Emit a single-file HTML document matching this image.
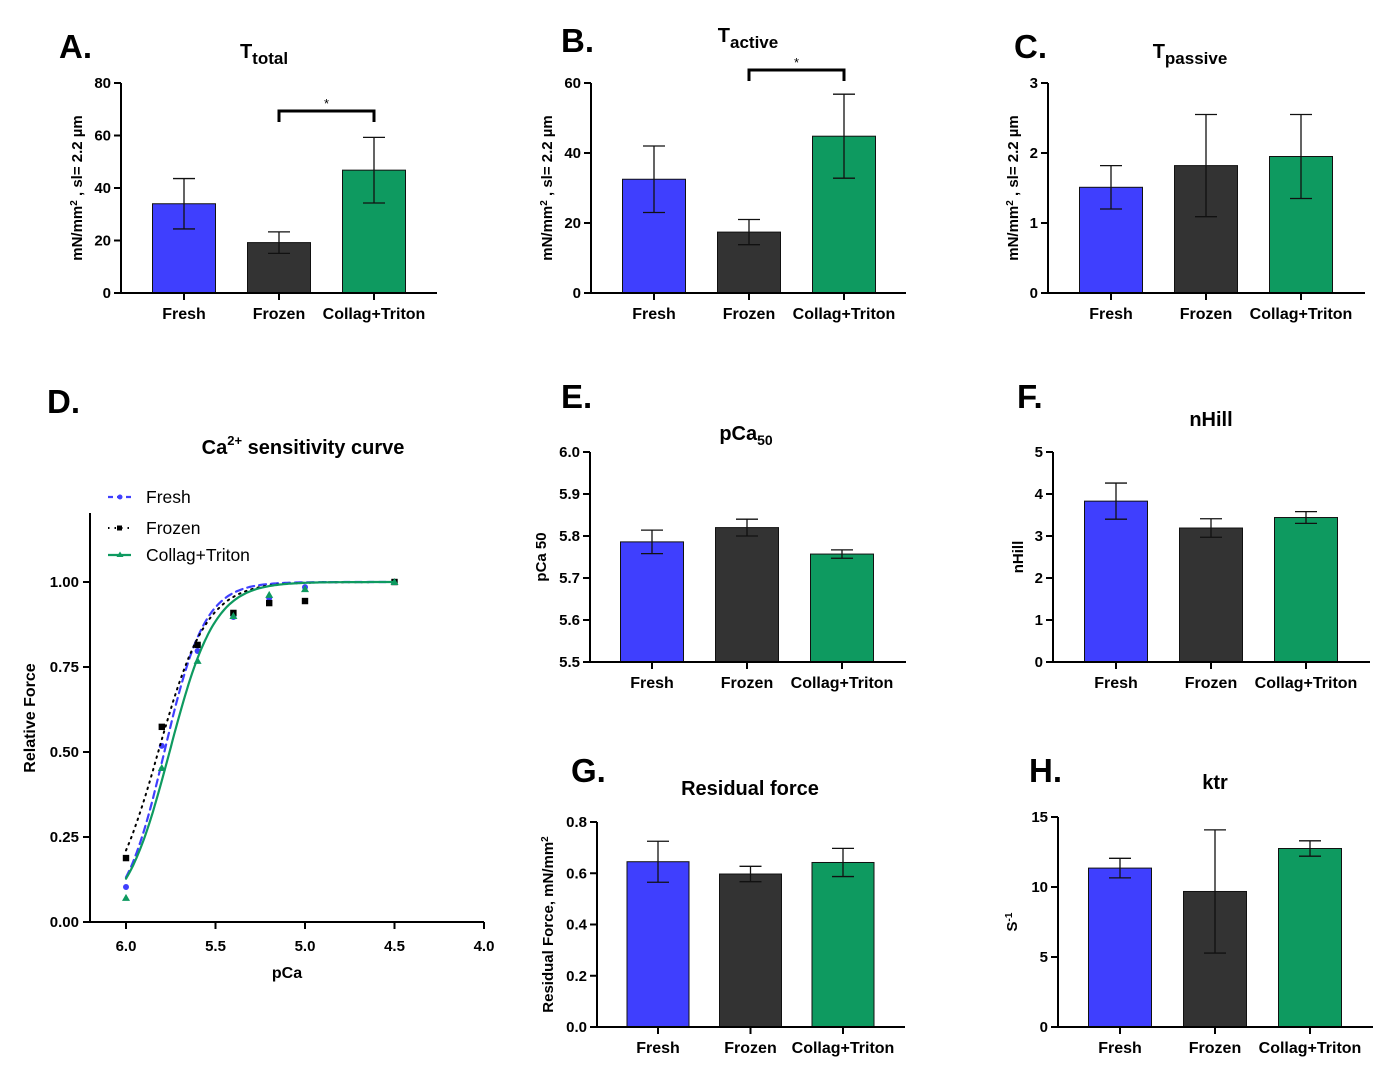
<!DOCTYPE html>
<html><head><meta charset="utf-8"><style>
html,body{margin:0;padding:0;background:#fff;}
svg{display:block;font-family:"Liberation Sans",Arial,sans-serif;}
</style></head><body>
<svg id="fig" width="1400" height="1091" viewBox="0 0 1400 1091" xmlns="http://www.w3.org/2000/svg"></svg>
<script>
const categories = ["Fresh","Frozen","Collag+Triton"];
const colors = ["#3f3ffe","#333333","#0e9a60"];
const tTotalVals = [34.0, 19.2, 46.8];
const tTotalErr = [9.6, 4.1, 12.5];
const tActiveVals = [32.5, 17.4, 44.8];
const tActiveErr = [9.5, 3.6, 12.0];
const tPassiveVals = [1.51, 1.82, 1.95];
const tPassiveErr = [0.31, 0.73, 0.60];
const pCa50Vals = [5.786, 5.820, 5.757];
const pCa50Err = [0.028, 0.020, 0.010];
const nHillVals = [3.83, 3.19, 3.44];
const nHillErr = [0.43, 0.22, 0.14];
const residualVals = [0.645, 0.597, 0.642];
const residualErr = [0.080, 0.030, 0.055];
const ktrVals = [11.35, 9.68, 12.75];
const ktrErr = [0.70, 4.40, 0.55];
const tTotalTicks = ["0","20","40","60","80"];
const tActiveTicks = ["0","20","40","60"];
const tPassiveTicks = ["0","1","2","3"];
const pCa50Ticks = ["5.5","5.6","5.7","5.8","5.9","6.0"];
const nHillTicks = ["0","1","2","3","4","5"];
const residualTicks = ["0.0","0.2","0.4","0.6","0.8"];
const ktrTicks = ["0","5","10","15"];
// Ca sensitivity
const pCaLevels = [6.0, 5.8, 5.6, 5.4, 5.2, 5.0, 4.5];
const freshForce = [0.103, 0.518, 0.797, 0.897, 0.953, 0.985, 1.0];
const frozenForce = [0.188, 0.574, 0.815, 0.909, 0.938, 0.944, 1.0];
const collagForce = [0.071, 0.453, 0.768, 0.900, 0.962, 0.979, 1.0];
const dYTicks = ["0.00","0.25","0.50","0.75","1.00"];
const dXTicks = ["6.0","5.5","5.0","4.5","4.0"];

const NS = "http://www.w3.org/2000/svg";
const svg = document.getElementById("fig");
function mk(tag, attrs, parent){
  const e = document.createElementNS(NS, tag);
  for (const k in attrs) e.setAttribute(k, attrs[k]);
  (parent||svg).appendChild(e);
  return e;
}
function txt(s, x, y, size, anchor, weight, parent){
  const t = mk("text", {x:x, y:y, "font-size":size, "text-anchor":anchor||"middle", "font-weight":weight||"bold", fill:"#000"}, parent);
  t.textContent = s;
  return t;
}

function barPanel(p){
  const g = mk("g", {});
  
  
  const ymin = parseFloat(p.ticks[0]), ymax = parseFloat(p.ticks[p.ticks.length-1]);
  const ys = v => p.bottom - (v - ymin) / (ymax - ymin) * (p.bottom - p.top);
  const cx = i => p.c0 + i * p.step;
  p.vals.forEach((v,i)=>{
    const r = mk("rect", {x:cx(i)-p.bw/2, y:ys(v), width:p.bw, height:p.bottom-ys(v), fill:colors[i], stroke:"#111", "stroke-width":1}, g);
    
    
    const e = p.err[i];
    const eg = mk("g", {stroke:"#111", "stroke-width":1.3}, g);
    
    
    mk("line", {x1:cx(i), x2:cx(i), y1:ys(v+e), y2:ys(v-e)}, eg);
    mk("line", {x1:cx(i)-11, x2:cx(i)+11, y1:ys(v+e), y2:ys(v+e)}, eg);
    mk("line", {x1:cx(i)-11, x2:cx(i)+11, y1:ys(v-e), y2:ys(v-e)}, eg);
  });
  const ax = mk("g", {stroke:"#000", "stroke-width":2}, g);
  
  
  mk("line", {x1:p.ax, x2:p.ax, y1:p.top, y2:p.bottom+1}, ax);
  mk("line", {x1:p.ax-1, x2:p.right, y1:p.bottom, y2:p.bottom}, ax);
  p.ticks.forEach(t=>{
    const y = ys(parseFloat(t));
    mk("line", {x1:p.ax-7, x2:p.ax, y1:y, y2:y}, ax);
    const l = txt(t, p.ax-10, y+5, 15, "end", "bold", g);
    
    
  });
  categories.forEach((c,i)=>{
    mk("line", {x1:cx(i), x2:cx(i), y1:p.bottom, y2:p.bottom+7}, ax);
    const l = txt(c, cx(i), p.bottom+26, 16, "middle", "bold", g);
    
    
  });
  const yl = mk("text", {transform:`translate(${p.ylx},${(p.top+p.bottom)/2}) rotate(-90)`, "font-size":15, "text-anchor":"middle", "font-weight":"bold"}, g);
  yl.innerHTML = p.ylabel;
  
  
  const tt = mk("text", {x:p.tx, y:p.ty, "font-size":20, "text-anchor":"middle", "font-weight":"bold"}, g);
  tt.innerHTML = p.title;
  
  
  const pl = txt(p.letter, p.lx, p.ly, 33, "start", "bold", g);
  
  
  if (p.bracket){
    const b = mk("path", {d:`M${cx(1)},${p.bracket+11} V${p.bracket} H${cx(2)} V${p.bracket+11}`, fill:"none", stroke:"#000", "stroke-width":3}, g);
    
    
    const s = txt("*", (cx(1)+cx(2))/2, p.bracket-3, 13, "middle", "normal", g);
    
    
  }
}
const mmLabel = 'mN/mm<tspan baseline-shift="super" font-size="10">2</tspan> , sl= 2.2 µm';
barPanel({name:"panel-a-t-total", vals:tTotalVals, err:tTotalErr, ticks:tTotalTicks, ax:121, top:83, bottom:293, right:437, c0:184, step:95, bw:63, ylx:82, ylabel:mmLabel, tx:264, ty:58, title:'T<tspan font-size="17" dy="6">total</tspan>', letter:"A.", lx:59, ly:58, bracket:111});
barPanel({name:"panel-b-t-active", vals:tActiveVals, err:tActiveErr, ticks:tActiveTicks, ax:591, top:83, bottom:293, right:906, c0:654, step:95, bw:63, ylx:552, ylabel:mmLabel, tx:748, ty:42, title:'T<tspan font-size="17" dy="6">active</tspan>', letter:"B.", lx:561, ly:52, bracket:70});
barPanel({name:"panel-c-t-passive", vals:tPassiveVals, err:tPassiveErr, ticks:tPassiveTicks, ax:1048, top:83, bottom:293, right:1365, c0:1111, step:95, bw:63, ylx:1018, ylabel:mmLabel, tx:1190, ty:58, title:'T<tspan font-size="17" dy="6">passive</tspan>', letter:"C.", lx:1014, ly:58});
barPanel({name:"panel-e-pca50", vals:pCa50Vals, err:pCa50Err, ticks:pCa50Ticks, ax:590, top:452, bottom:662, right:906, c0:652, step:95, bw:63, ylx:546, ylabel:'pCa 50', tx:746, ty:440, title:'pCa<tspan font-size="14" dy="5">50</tspan>', letter:"E.", lx:561, ly:408});
barPanel({name:"panel-f-nhill", vals:nHillVals, err:nHillErr, ticks:nHillTicks, ax:1053, top:452, bottom:662, right:1370, c0:1116, step:95, bw:63, ylx:1023, ylabel:'nHill', tx:1211, ty:426, title:'nHill', letter:"F.", lx:1017, ly:408});
barPanel({name:"panel-g-residual-force", vals:residualVals, err:residualErr, ticks:residualTicks, ax:597, top:822, bottom:1027, right:905, c0:658, step:92.5, bw:62, ylx:553, ylabel:'Residual Force, mN/mm<tspan baseline-shift="super" font-size="10">2</tspan>', tx:750, ty:795, title:'Residual force', letter:"G.", lx:571, ly:782});
barPanel({name:"panel-h-ktr", vals:ktrVals, err:ktrErr, ticks:ktrTicks, ax:1058, top:817, bottom:1027, right:1373, c0:1120, step:95, bw:63, ylx:1017, ylabel:'S<tspan baseline-shift="super" font-size="10">-1</tspan>', tx:1215, ty:789, title:'ktr', letter:"H.", lx:1029, ly:782});

(function(){
  const g = mk("g", {});
  
  
  const X0 = 126, XPER = 179, Y0 = 922, YH = 340;
  const xs = p => X0 + (6.0 - p) * XPER;
  const ys = f => Y0 - f * YH;
  const series = [
    {name:"Fresh", vals:freshForce, fitIdx:0, color:"#3f3ffe", dash:"7,5", w:2.2, mark:"circle"},
    {name:"Frozen", vals:frozenForce, fitIdx:1, color:"#000", dash:"1.5,5", w:2, mark:"square"},
    {name:"Collag+Triton", vals:collagForce, fitIdx:2, color:"#0e9a60", dash:"", w:2.2, mark:"tri"}
  ];
  series.forEach((s,si)=>{
    let d = "";
    const pc50 = pCa50Vals[s.fitIdx], n = nHillVals[s.fitIdx];
    for (let k=0;k<=150;k++){
      const p = 6.0 - k*0.01;
      const f = 1/(1+Math.pow(10, n*(p-pc50)));
      d += (k?"L":"M") + xs(p).toFixed(1) + "," + ys(f).toFixed(1);
    }
    const line = mk("path", {d:d, fill:"none", stroke:s.color, "stroke-width":s.w, "stroke-dasharray":s.dash, "stroke-linecap":"round"}, g);
    
    
    s.vals.forEach((v,i)=>{
      const x = xs(pCaLevels[i]), y = ys(v);
      let m;
      if (s.mark==="circle") m = mk("circle", {cx:x, cy:y, r:3, fill:s.color}, g);
      else if (s.mark==="square") m = mk("rect", {x:x-3.2, y:y-3.2, width:6.4, height:6.4, fill:s.color}, g);
      else m = mk("path", {d:`M${x},${y-4} L${x+4},${y+3} L${x-4},${y+3} Z`, fill:s.color}, g);
      
      
    });
    const ly = [497, 528, 555][si];
    const lg = mk("g", {}, g);
    
    
    mk("line", {x1:108, x2:131, y1:ly, y2:ly, stroke:s.color, "stroke-width":s.w, "stroke-dasharray":s.dash==="7,5"?"5,4":s.dash}, lg);
    if (s.mark==="circle") mk("circle", {cx:120, cy:ly, r:2.5, fill:s.color}, lg);
    else if (s.mark==="square") mk("rect", {x:117, y:ly-2.5, width:5, height:5, fill:s.color}, lg);
    else mk("path", {d:`M120,${ly-3.5} L123.5,${ly+2} L116.5,${ly+2} Z`, fill:s.color}, lg);
    txt(s.name, 146, ly+6, 17.5, "start", "normal", lg);
  });
  const ax = mk("g", {stroke:"#000", "stroke-width":2}, g);
  
  
  mk("line", {x1:90, x2:90, y1:513, y2:Y0+1}, ax);
  mk("line", {x1:89, x2:484, y1:Y0, y2:Y0}, ax);
  dYTicks.forEach(t=>{
    const y = ys(parseFloat(t));
    mk("line", {x1:83, x2:90, y1:y, y2:y}, ax);
    const l = txt(t, 79, y+5, 15, "end", "bold", g);
    
    
  });
  dXTicks.forEach(t=>{
    const x = xs(parseFloat(t));
    mk("line", {x1:x, x2:x, y1:Y0, y2:Y0+7}, ax);
    const l = txt(t, x, Y0+29, 15, "middle", "bold", g);
    
    
  });
  const xl = txt("pCa", 287, 978, 16, "middle", "bold", g);
  
  
  const yl = mk("text", {transform:"translate(35,718) rotate(-90)", "font-size":16, "text-anchor":"middle", "font-weight":"bold"}, g);
  yl.textContent = "Relative Force";
  
  
  const tt = mk("text", {x:303, y:454, "font-size":20, "text-anchor":"middle", "font-weight":"bold"}, g);
  tt.innerHTML = 'Ca<tspan font-size="13" dy="-9">2+</tspan><tspan dy="9"> sensitivity curve</tspan>';
  
  
  const pl = txt("D.", 47, 413, 33, "start", "bold", g);
  
  
})();
</script>
</body></html>
